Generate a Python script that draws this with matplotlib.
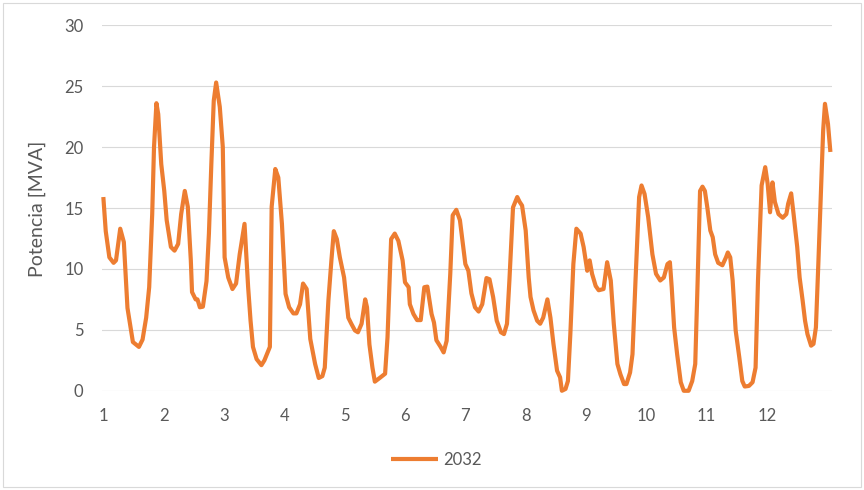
import matplotlib.pyplot as plt
from matplotlib.patches import Rectangle

# vertices of the 2032 curve (day on x, MVA on y)
dias = [1.00, 1.04, 1.10, 1.17, 1.21, 1.28, 1.34, 1.40, 1.49, 1.59, 1.65, 1.71, 1.76, 1.81, 1.84, 1.88,
        1.91, 1.96, 2.01, 2.05, 2.12, 2.18, 2.24, 2.29, 2.35, 2.40, 2.45, 2.47, 2.53, 2.56, 2.60, 2.65,
        2.71, 2.75, 2.79, 2.83, 2.87, 2.93, 2.98, 3.01, 3.07, 3.14, 3.20, 3.26, 3.34, 3.40, 3.44, 3.48,
        3.54, 3.62, 3.67, 3.76, 3.79, 3.85, 3.90, 3.96, 4.02, 4.08, 4.15, 4.20, 4.26, 4.31, 4.37, 4.43,
        4.51, 4.57, 4.63, 4.67, 4.73, 4.78, 4.82, 4.87, 4.92, 4.99, 5.06, 5.11, 5.17, 5.22, 5.28, 5.34,
        5.37, 5.41, 5.46, 5.50, 5.58, 5.67, 5.71, 5.77, 5.83, 5.89, 5.96, 6.00, 6.06, 6.08, 6.14, 6.20,
        6.26, 6.32, 6.37, 6.44, 6.48, 6.52, 6.59, 6.64, 6.69, 6.75, 6.79, 6.85, 6.91, 7.00, 7.05, 7.10,
        7.16, 7.22, 7.28, 7.35, 7.40, 7.46, 7.52, 7.59, 7.64, 7.69, 7.73, 7.79, 7.86, 7.90, 7.94, 8.00,
        8.05, 8.08, 8.13, 8.19, 8.24, 8.29, 8.36, 8.41, 8.46, 8.52, 8.57, 8.60, 8.66, 8.70, 8.74, 8.79,
        8.84, 8.91, 8.96, 9.02, 9.06, 9.10, 9.16, 9.21, 9.29, 9.35, 9.41, 9.46, 9.52, 9.57, 9.63, 9.67,
        9.73, 9.77, 9.82, 9.88, 9.92, 9.97, 10.03, 10.10, 10.16, 10.23, 10.29, 10.35, 10.39, 10.42, 10.46,
        10.51, 10.57, 10.62, 10.70, 10.76, 10.81, 10.85, 10.89, 10.93, 10.97, 11.01, 11.06, 11.10, 11.14,
        11.19, 11.26, 11.32, 11.35, 11.39, 11.43, 11.48, 11.54, 11.59, 11.63, 11.70, 11.76, 11.81, 11.85,
        11.91, 11.97, 12.01, 12.05, 12.09, 12.13, 12.19, 12.26, 12.32, 12.35, 12.40, 12.44, 12.50, 12.54,
        12.59, 12.63, 12.67, 12.73, 12.77, 12.81, 12.85, 12.89, 12.93, 12.96, 13.01, 13.05]
potencia = [15.9, 13.1, 10.95, 10.5, 10.7, 13.3, 12.2, 6.8, 4.0, 3.6, 4.2, 6.0, 8.5, 14.5, 20.0, 23.6,
            22.7, 18.6, 16.4, 14.0, 11.8, 11.5, 12.05, 14.5, 16.4, 15.1, 10.7, 8.1, 7.5, 7.5, 6.85, 6.9,
            9.0, 12.9, 18.6, 23.8, 25.3, 23.3, 20.0, 10.95, 9.3, 8.35, 8.8, 11.2, 13.7, 8.5, 5.75, 3.6,
            2.6, 2.1, 2.5, 3.6, 15.1, 18.2, 17.5, 13.7, 7.95, 6.85, 6.35, 6.35, 7.1, 8.8, 8.35, 4.25,
            2.2, 1.05, 1.2, 1.9, 7.4, 10.7, 13.1, 12.45, 10.95, 9.3, 6.0, 5.5, 4.95, 4.8, 5.5, 7.5,
            6.85, 3.8, 1.9, 0.75, 1.05, 1.4, 4.4, 12.45, 12.9, 12.3, 10.7, 8.9, 8.5, 7.1, 6.3, 5.8,
            5.8, 8.5, 8.55, 6.3, 5.6, 4.15, 3.6, 3.15, 4.1, 9.6, 14.4, 14.85, 14.0, 10.4, 9.85, 8.0,
            6.85, 6.5, 7.1, 9.25, 9.15, 7.7, 5.75, 4.8, 4.65, 5.5, 9.05, 15.05, 15.9, 15.5, 15.2, 13.15,
            9.3, 7.7, 6.6, 5.75, 5.5, 6.0, 7.5, 6.0, 3.85, 1.65, 1.1, 0.0, 0.15, 0.8, 4.65, 10.4,
            13.3, 12.9, 11.8, 9.85, 10.7, 9.6, 8.6, 8.25, 8.35, 10.55, 9.05, 5.5, 2.2, 1.35, 0.55, 0.55,
            1.5, 3.0, 9.05, 15.9, 16.85, 16.15, 14.25, 11.2, 9.6, 9.05, 9.3, 10.4, 10.55, 8.5, 5.2,
            3.0, 0.7, 0.0, 0.0, 0.8, 2.2, 9.05, 16.4, 16.75, 16.4, 15.05, 13.15, 12.6, 11.2,
            10.5, 10.3, 10.95, 11.35, 10.95, 9.05, 4.95, 2.75, 0.8, 0.35, 0.4, 0.7, 1.9, 9.05,
            16.85, 18.35, 17.0, 14.65, 17.1, 15.5, 14.5, 14.2, 14.5, 15.35, 16.2, 14.5, 11.8, 9.3,
            7.4, 5.75, 4.65, 3.7, 3.85, 5.2, 10.4, 15.9, 21.35, 23.55, 21.9, 19.6]
dias_ticks = list(range(1, 13))
serie = "2032"

plt.rcParams['font.family'] = ['Lato', 'DejaVu Sans']
gris = '#595959'

fig = plt.figure(figsize=(8.64, 4.9), dpi=100)
ax = fig.add_axes([0.1175, 0.2025, 0.845, 0.746])

ax.plot(dias, potencia, color='#ED7D31', lw=3.0, label=serie,
        solid_joinstyle='round', solid_capstyle='butt', clip_on=False)

ax.set_xlim(0.97, 13.07)
ax.set_ylim(0, 30)
ax.set_xticks(dias_ticks)
ax.set_yticks(range(0, 31, 5))
ax.grid(axis='y', color='#D9D9D9', lw=0.8)
ax.set_axisbelow(True)
for s in ax.spines.values():
    s.set_visible(False)
ax.tick_params(axis='both', length=0, labelsize=12, labelcolor=gris)
ax.tick_params(axis='y', pad=13)
ax.tick_params(axis='x', pad=12.5)

ax.set_ylabel("Potencia [MVA]", fontsize=14, color=gris)
ax.yaxis.set_label_coords(-0.0756, 0.498)

fig.legend(loc='center', bbox_to_anchor=(0.505, 0.062), frameon=False, fontsize=12,
           handlelength=2.8, handletextpad=0.3, labelcolor=gris)

# borde del area del grafico
fig.patches.append(Rectangle((3 / 864, 3 / 490), 858 / 864, 484 / 490, transform=fig.transFigure,
                             fill=False, edgecolor='#D9D9D9', lw=0.8))

plt.savefig("out.png", dpi=100)
